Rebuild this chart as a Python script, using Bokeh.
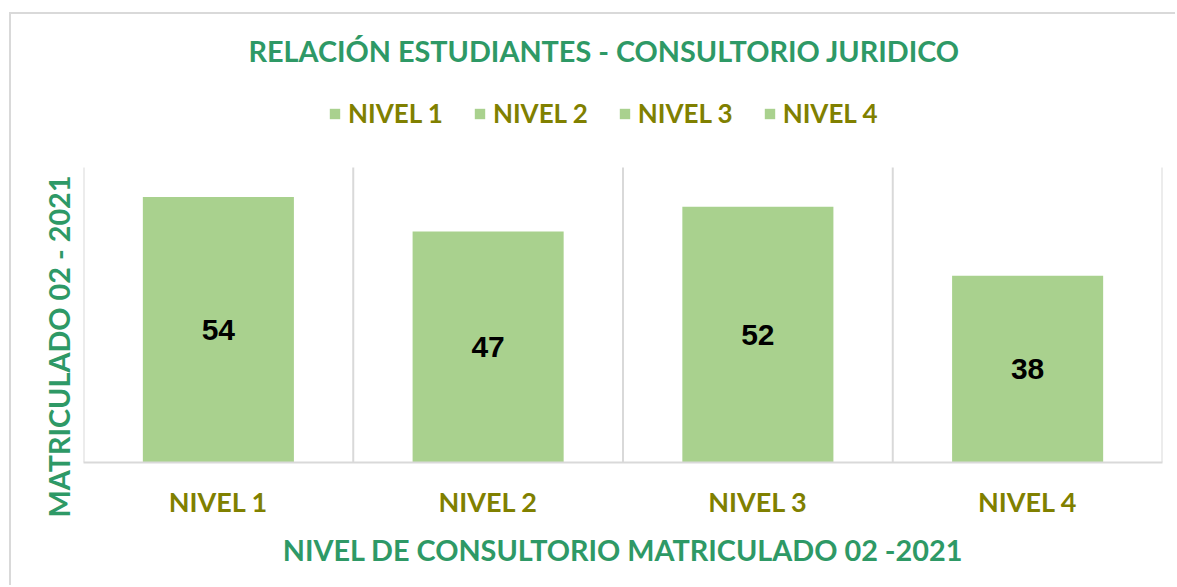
from bokeh.plotting import figure
from bokeh.models import (ColumnDataSource, FixedTicker, Legend, LegendItem, Range1d,
                          LabelSet, Title)
from bokeh.core.properties import value
from bokeh.embed import file_html
from bokeh.resources import INLINE

categories = ["NIVEL 1", "NIVEL 2", "NIVEL 3", "NIVEL 4"]
values = [54, 47, 52, 38]
y_axis_max = 60

GREEN = "#2E9966"
OLIVE = "#808000"
BAR = "#A9D18E"
GRID = "#D9D9D9"
FONT = "Lato"

# layout (pixels)
PLOT_H = 295          # height of the value area (0..y_axis_max)
LEGEND_H = 83         # room above it, inside the frame, for the legend
FRAME_H = PLOT_H + LEGEND_H
FRAME_W = 1079

n = len(categories)
xs = [i + 0.5 for i in range(n)]
src = ColumnDataSource(dict(x=xs, top=values, mid=[v / 2 for v in values],
                            lab=[str(v) for v in values], cat=categories))
grid_src = ColumnDataSource(dict(x=list(range(n + 1)), y0=[0] * (n + 1),
                                 y1=[y_axis_max] * (n + 1)))

p = figure(frame_width=FRAME_W, frame_height=FRAME_H, output_backend="svg",
           toolbar_location=None, y_axis_location=None,
           x_range=Range1d(0, n), y_range=Range1d(0, y_axis_max * FRAME_H / PLOT_H),
           min_border_left=72, min_border_right=13, min_border_top=40,
           min_border_bottom=123)
p.styles = {"margin-left": "9px", "margin-top": "12px",
            "border-top": "2px solid #D9D9D9", "border-left": "2px solid #D9D9D9"}

p.segment(x0="x", y0="y0", x1="x", y1="y1", source=grid_src,
          line_color=GRID, line_width=2)
r = p.vbar(x="x", top="top", width=0.56, source=src, fill_color=BAR, line_color=None)

labels = LabelSet(x="x", y="mid", text="lab", source=src, text_align="center",
                  text_baseline="middle", text_font=value("Liberation Sans"),
                  text_font_style="bold", text_font_size=value("30px"),
                  text_color="black")
p.add_layout(labels)

p.title.text = "RELACIÓN ESTUDIANTES  - CONSULTORIO JURIDICO"
p.title.align = "left"
p.title.offset = 165
p.title.text_color = GREEN
p.title.text_font = FONT
p.title.text_font_style = "bold"
p.title.text_font_size = "28.8px"
p.title.standoff = 34

ytitle = Title(text="MATRICULADO 02 - 2021", align="left", offset=-55, standoff=16,
               text_color=GREEN, text_font=FONT, text_font_style="bold",
               text_font_size="28.8px")
p.add_layout(ytitle, "left")

items = [LegendItem(label=c, renderers=[r], index=i) for i, c in enumerate(categories)]
legend = Legend(items=items, orientation="horizontal", location=(245, PLOT_H + 38),
                label_text_color=OLIVE, label_text_font=FONT, label_text_font_style="bold",
                label_text_font_size="26px", glyph_width=13, glyph_height=13,
                spacing=30, label_standoff=7, border_line_color=None,
                background_fill_alpha=0, margin=0, padding=4)
p.add_layout(legend)

p.xaxis.ticker = FixedTicker(ticks=xs)
p.xaxis.major_label_overrides = {x: c for x, c in zip(xs, categories)}
p.xaxis.major_label_text_color = OLIVE
p.xaxis.major_label_text_font = FONT
p.xaxis.major_label_text_font_style = "bold"
p.xaxis.major_label_text_font_size = "27px"
p.xaxis.major_label_standoff = 22
p.xaxis.major_tick_line_color = None
p.xaxis.major_tick_out = 0
p.xaxis.minor_tick_line_color = None
p.xaxis.axis_line_color = GRID
p.xaxis.axis_line_width = 2
p.xaxis.axis_label = "NIVEL DE CONSULTORIO MATRICULADO 02 -2021"
p.xaxis.axis_label_text_color = GREEN
p.xaxis.axis_label_text_font = FONT
p.xaxis.axis_label_text_font_style = "bold"
p.xaxis.axis_label_text_font_size = "28.8px"
p.xaxis.axis_label_standoff = 12

p.xgrid.grid_line_color = None
p.ygrid.grid_line_color = None
p.outline_line_color = None

open("out.html", "w").write(file_html(p, INLINE))
